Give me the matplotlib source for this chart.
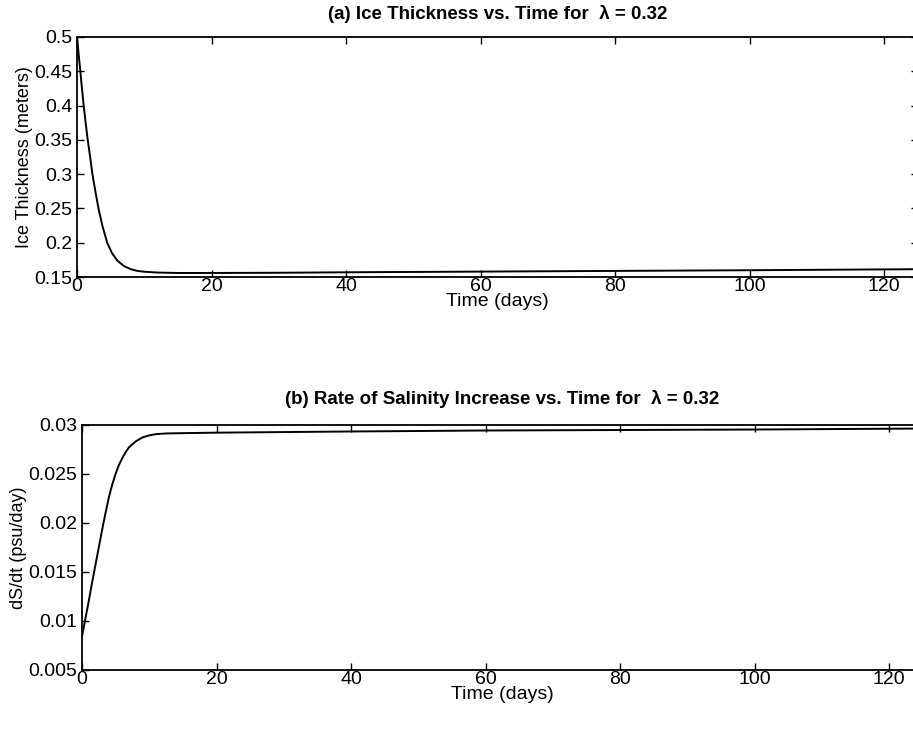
import matplotlib
matplotlib.use("Agg")
import matplotlib.pyplot as plt
from matplotlib.ticker import FuncFormatter

plt.rcParams['font.family'] = ['Liberation Sans', 'DejaVu Sans']

# Panel (a): ice thickness (m) vs time (days)
t_ice = [0, 0.25, 0.5, 0.75, 1.0, 1.3, 1.6, 2.0, 2.3, 2.7, 3.2, 3.8, 4.5, 5.2, 6, 7, 8, 9, 10, 12, 15, 20, 30, 40, 60, 80, 100, 125]
h_ice = [0.5, 0.475, 0.45, 0.424, 0.40, 0.374, 0.35, 0.322, 0.30, 0.277, 0.25, 0.224, 0.20, 0.185, 0.174, 0.166, 0.1615, 0.159, 0.1578, 0.1566, 0.156, 0.156, 0.1563, 0.157, 0.158, 0.159, 0.160, 0.1615]

# Panel (b): dS/dt (psu/day) vs time (days)
t_sal = [0, 0.5, 1.0, 1.5, 2.0, 2.5, 3.0, 3.5, 4.0, 4.5, 5.0, 5.5, 6.0, 6.5, 7.0, 7.5, 8.0, 9.0, 10, 11, 12.5, 15, 20, 40, 60, 80, 100, 125]
dsdt = [0.0084, 0.0102, 0.0120, 0.0139, 0.0157, 0.0175, 0.0193, 0.0210, 0.0226, 0.0239, 0.0250, 0.0259, 0.0266, 0.0272, 0.0277, 0.0280, 0.0283, 0.0287, 0.0289, 0.02903, 0.0291, 0.02913, 0.02918, 0.0293, 0.0294, 0.02945, 0.0295, 0.0296]

x_ticks = [0, 20, 40, 60, 80, 100, 120]
ice_ticks = [0.15, 0.2, 0.25, 0.3, 0.35, 0.4, 0.45, 0.5]
sal_ticks = [0.005, 0.01, 0.015, 0.02, 0.025, 0.03]

fig = plt.figure(figsize=(9.13, 7.55), dpi=100)
ax1 = fig.add_axes([0.0843, 0.633, 0.921, 0.318])
ax2 = fig.add_axes([0.0898, 0.1126, 0.921, 0.325])

fmt = FuncFormatter(lambda v, p: ('%g' % round(v, 4)))

def style(ax):
    ax.tick_params(direction='in', top=True, right=True, length=5, width=1.0,
                   labelsize=14)
    ax.tick_params(axis='x', pad=0.5)
    ax.tick_params(axis='y', pad=3.5)
    for s in ax.spines.values():
        s.set_linewidth(1.3)
    ax.set_xlim(0, 125)
    ax.set_xticks(x_ticks)
    ax.yaxis.set_major_formatter(fmt)

ax1.plot(t_ice, h_ice, color='black', lw=1.4)
style(ax1)
ax1.set_ylim(0.15, 0.5)
ax1.set_yticks(ice_ticks)
ax1.set_ylabel('Ice Thickness (meters)', fontsize=13, labelpad=1)
ax1.set_xlabel('Time (days)', fontsize=14, labelpad=-1)
ax1.set_title('(a) Ice Thickness vs. Time for  λ = 0.32', fontsize=13.5,
              fontweight='bold', pad=13)

ax2.plot(t_sal, dsdt, color='black', lw=1.4)
style(ax2)
ax2.set_ylim(0.005, 0.03)
ax2.set_yticks(sal_ticks)
ax2.set_ylabel('dS/dt (psu/day)', fontsize=13, labelpad=1)
ax2.set_xlabel('Time (days)', fontsize=14, labelpad=-1)
ax2.set_title('(b) Rate of Salinity Increase vs. Time for  λ = 0.32', fontsize=13.5,
              fontweight='bold', pad=15)

fig.savefig('out.png', dpi=100)
